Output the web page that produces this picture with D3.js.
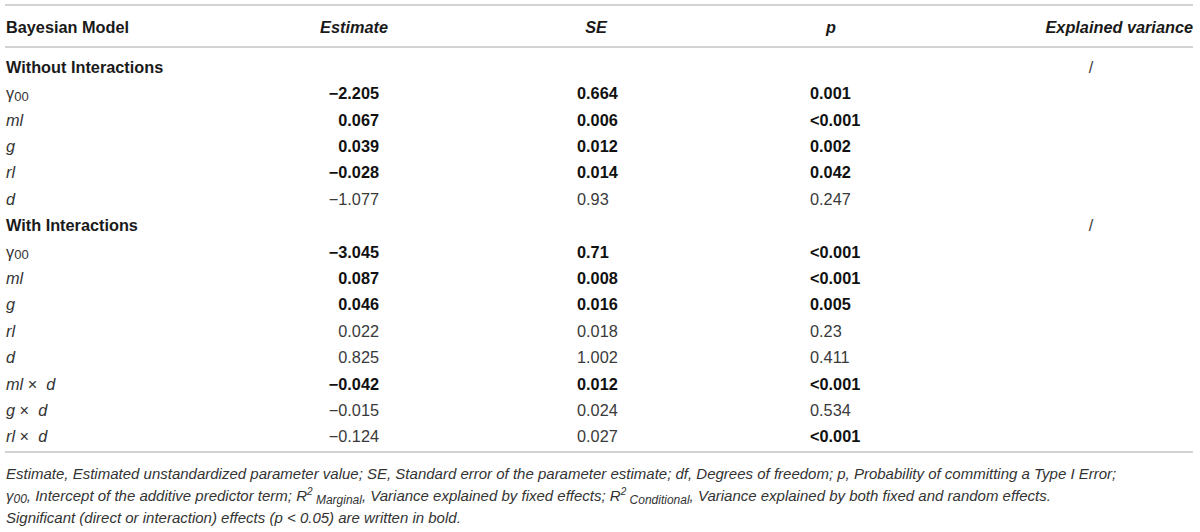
<!DOCTYPE html>
<html>
<head>
<meta charset="utf-8">
<script src="https://cdn.jsdelivr.net/npm/d3@7"></script>
<style>
  body { margin: 0; background: #fff; }
  svg { display: block; font-family: "Liberation Sans", Arial, sans-serif; }
  text { white-space: pre; }
</style>
</head>
<body>
<div id="table"></div>
<script>
// table content
var headers = ["Bayesian Model", "Estimate", "SE", "p", "Explained variance"];
var rowLabels = ["Without Interactions", "γ00", "ml", "g", "rl", "d",
                 "With Interactions", "γ00", "ml", "g", "rl", "d", "ml × d", "g × d", "rl × d"];
var sectionRows = [0, 6];
var estimates = ["", "−2.205", "0.067", "0.039", "−0.028", "−1.077",
                 "", "−3.045", "0.087", "0.046", "0.022", "0.825", "−0.042", "−0.015", "−0.124"];
var seValues = ["", "0.664", "0.006", "0.012", "0.014", "0.93",
                "", "0.71", "0.008", "0.016", "0.018", "1.002", "0.012", "0.024", "0.027"];
var pValues = ["", "0.001", "<0.001", "0.002", "0.042", "0.247",
               "", "<0.001", "<0.001", "0.005", "0.23", "0.411", "<0.001", "0.534", "<0.001"];
var explained = ["/", "", "", "", "", "", "/", "", "", "", "", "", "", "", ""];
var boldEstimate = [0, 1, 1, 1, 1, 0, 0, 1, 1, 1, 0, 0, 1, 0, 0];
var boldSE       = [0, 1, 1, 1, 1, 0, 0, 1, 1, 1, 0, 0, 1, 0, 0];
var boldP        = [0, 1, 1, 1, 1, 0, 0, 1, 1, 1, 0, 0, 1, 0, 1];

function init(){
    var w = 1200, h = 532;
    var fs = 16.3;

    var svg = d3.select("#table").append("svg")
                .attr("width", w).attr("height", h);

    var idx = d3.range(rowLabels.length);
    // 15 rows, centres from ~67 to ~436
    var y = d3.scaleBand().domain(idx).range([53.8, 449.8]);
    var yc = function(i){ return y(i) + y.bandwidth() / 2; };

    // column anchors
    var colX = d3.scaleOrdinal()
                 .domain(["label", "est", "estHead", "se", "seHead", "p", "pHead", "ev", "evHead"])
                 .range([6, 379, 354, 577, 596, 810, 831, 1091, 1193]);

    // rules
    var rules = [5, 47, 452];
    svg.selectAll("line.rule").data(rules).enter().append("line")
       .attr("class", "rule")
       .attr("x1", 5).attr("x2", 1193)
       .attr("y1", function(d){ return d; }).attr("y2", function(d){ return d; })
       .attr("stroke", "#d2d2d2").attr("stroke-width", 2);

    // header row
    var headPos = [["label", "start"], ["estHead", "middle"], ["seHead", "middle"], ["pHead", "middle"], ["evHead", "end"]];
    svg.selectAll("text.head").data(headers).enter().append("text")
       .attr("class", "head")
       .attr("x", function(d, i){ return colX(headPos[i][0]); })
       .attr("y", 27)
       .attr("dy", "0.35em")
       .attr("text-anchor", function(d, i){ return headPos[i][1]; })
       .attr("font-size", fs)
       .attr("font-weight", "bold")
       .attr("font-style", function(d, i){ return i == 0 ? "normal" : "italic"; })
       .attr("fill", "#1a1a1a")
       .text(function(d){ return d; });

    var rows = svg.selectAll("g.row").data(idx).enter().append("g")
                  .attr("class", "row")
                  .attr("transform", function(i){ return "translate(0," + yc(i) + ")"; });

    // row labels
    rows.each(function(i){
        var g = d3.select(this);
        var t = g.append("text")
                 .attr("x", colX("label"))
                 .attr("dy", "0.35em")
                 .attr("font-size", fs)
                 .attr("fill", "#1a1a1a");
        var lab = rowLabels[i];
        if (sectionRows.indexOf(i) >= 0) {
            t.attr("font-weight", "bold").text(lab);
        } else if (lab == "γ00") {
            t.attr("fill", "#333");
            t.append("tspan").text("γ");
            t.append("tspan").attr("font-size", fs * 0.8).attr("dy", "0.12em").text("00");
        } else if (lab.indexOf("×") >= 0) {
            var parts = lab.split(" × ");
            t.attr("fill", "#333");
            t.append("tspan").attr("font-style", "italic").text(parts[0]);
            t.append("tspan").text(" × ");
            t.append("tspan").attr("font-style", "italic").text(" " + parts[1]);
        } else {
            t.attr("fill", "#333").attr("font-style", "italic").text(lab);
        }
    });

    function cell(key, anchor, vals, bold){
        rows.append("text")
            .attr("x", colX(key))
            .attr("dy", "0.35em")
            .attr("text-anchor", anchor)
            .attr("font-size", fs)
            .attr("font-weight", function(i){ return bold && bold[i] ? "bold" : "normal"; })
            .attr("fill", function(i){ return bold && bold[i] ? "#111" : "#3a3a3a"; })
            .text(function(i){ return vals[i]; });
    }
    cell("est", "end", estimates, boldEstimate);
    cell("se", "start", seValues, boldSE);
    cell("p", "start", pValues, boldP);
    cell("ev", "middle", explained, null);

    // footnote
    var fy = [474, 496, 518];
    var fn = svg.append("g").attr("font-size", 15).attr("font-style", "italic").attr("fill", "#333");

    fn.append("text").attr("x", 6).attr("y", fy[0]).attr("dy", "0.35em")
      .text("Estimate, Estimated unstandardized parameter value; SE, Standard error of the parameter estimate; df, Degrees of freedom; p, Probability of committing a Type I Error;");

    var t2 = fn.append("text").attr("x", 6).attr("y", fy[1]).attr("dy", "0.35em");
    t2.append("tspan").text("γ");
    t2.append("tspan").attr("font-size", 12).attr("dy", 2).text("00");
    t2.append("tspan").attr("dy", -2).text(", Intercept of the additive predictor term; R");
    t2.append("tspan").attr("font-size", 10).attr("dy", -6).text("2");
    t2.append("tspan").attr("font-size", 12).attr("dy", 9).text(" Marginal");
    t2.append("tspan").attr("dy", -3).text(", Variance explained by fixed effects; R");
    t2.append("tspan").attr("font-size", 10).attr("dy", -6).text("2");
    t2.append("tspan").attr("font-size", 12).attr("dy", 9).text(" Conditional");
    t2.append("tspan").attr("dy", -3).text(", Variance explained by both fixed and random effects.");

    fn.append("text").attr("x", 6).attr("y", fy[2]).attr("dy", "0.35em")
      .text("Significant (direct or interaction) effects (p < 0.05) are written in bold.");
}
window.onload = init;
</script>
</body>
</html>
